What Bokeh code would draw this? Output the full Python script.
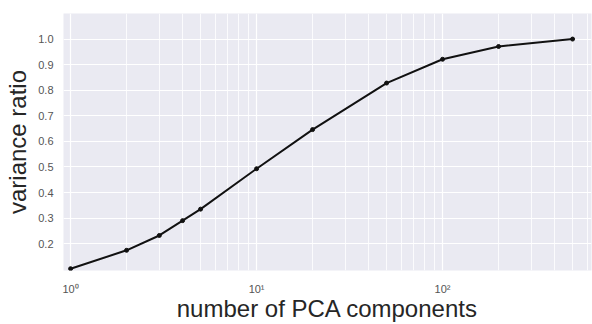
from bokeh.plotting import figure
from bokeh.models import Range1d, FixedTicker, NumeralTickFormatter
from bokeh.embed import file_html
from bokeh.resources import INLINE

# data
n_components = [1, 2, 3, 4, 5, 10, 20, 50, 100, 200, 500]
variance_ratio = [0.102, 0.174, 0.232, 0.290, 0.335, 0.493, 0.646, 0.828, 0.921, 0.971, 1.0]

x_major = [1, 10, 100]
x_minor = [0.9, 2, 3, 4, 5, 6, 7, 8, 9, 20, 30, 40, 50, 60, 70, 80, 90,
           200, 300, 400, 500, 600, 700, 800, 900]
x_labels = {1: "10⁰", 10: "10¹", 100: "10²"}
y_ticks = [0.2, 0.3, 0.4, 0.5, 0.6, 0.7, 0.8, 0.9, 1.0]

FONT = "Liberation Sans"

p = figure(width=592, height=324, x_axis_type="log",
           x_range=Range1d(0.916, 632.0), y_range=Range1d(0.095, 1.10),
           output_backend="svg", toolbar_location=None,
           min_border_left=63, min_border_right=1, min_border_top=13,
           min_border_bottom=51)

p.background_fill_color = "#EAEAF2"
p.border_fill_color = "white"
p.outline_line_color = None

p.line(n_components, variance_ratio, line_color="#111111", line_width=2)
p.scatter(n_components, variance_ratio, marker="circle", size=4,
          fill_color="#111111", line_color="#111111")

xt = FixedTicker(ticks=x_major, minor_ticks=x_minor)
p.xaxis.ticker = xt
p.xaxis.major_label_overrides = x_labels
p.yaxis.ticker = FixedTicker(ticks=y_ticks)
p.yaxis.formatter = NumeralTickFormatter(format="0.0")

for ax in (p.xaxis, p.yaxis):
    ax.axis_line_color = None
    ax.major_tick_line_color = None
    ax.minor_tick_line_color = None
    ax.major_tick_out = 0
    ax.minor_tick_out = 0
    ax.major_label_text_font = FONT
    ax.major_label_text_font_size = "11px"
    ax.major_label_text_color = "#555555"
    ax.axis_label_text_font = FONT
    ax.axis_label_text_font_size = "24px"
    ax.axis_label_text_font_style = "normal"
    ax.axis_label_text_color = "#262626"

p.xaxis.axis_label = "number of PCA components"
p.yaxis.axis_label = "variance ratio"
p.xaxis.major_label_standoff = 12
p.xaxis.axis_label_standoff = -3
p.yaxis.major_label_standoff = 10
p.yaxis.axis_label_standoff = 4

p.xgrid.ticker = xt
p.xgrid.grid_line_color = "white"
p.xgrid.grid_line_width = 1.2
p.xgrid.minor_grid_line_color = "white"
p.xgrid.minor_grid_line_width = 0.8
p.ygrid.grid_line_color = "white"
p.ygrid.grid_line_width = 1.2

open("out.html", "w").write(file_html(p, INLINE))
